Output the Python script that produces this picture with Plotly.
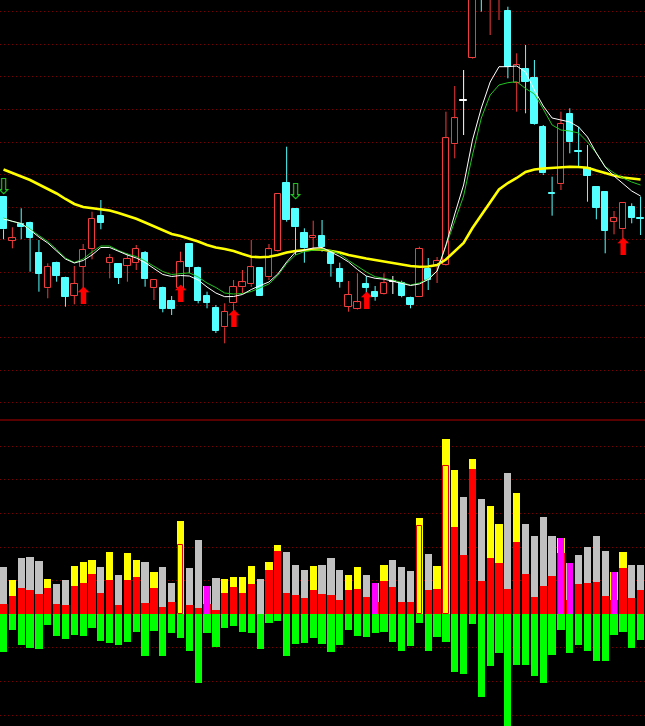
import plotly.graph_objects as go

# ---------------- price data (one candle per session) ----------------
opens = [30.33, 25.9, 27.57, 27.67, 24.67, 21.17, 23.73, 22.17, 20.43, 23.33,
         25.07, 28.4, 23.67, 23.6, 23.4, 23.67, 24.67, 21.17, 21.23, 19.9,
         21.23, 25.6, 23.23, 20.4, 19.23, 17.27, 19.67, 21.27, 21.57, 23.17,
         22.27, 24.9, 31.67, 29.07, 26.67, 26.23, 26.4, 24.67, 23.07, 19.33,
         19.07, 21.6, 20.8, 20.57, 21.83, 21.67, 20.17, 20.33, 23.07, 23.4,
         23.5, 35.57, 39.93, 44.17, 53.5, 51.0, 50.8, 48.9, 41.73, 43.1,
         42.17, 37.33, 30.73, 31.57, 38.6, 34.95, 33.17, 31.33, 30.83, 27.83,
         27.07, 29.33, 28.23]
highs = [30.4, 27.27, 29.17, 27.83, 26.0, 23.67, 23.83, 22.33, 23.4, 25.6,
         28.83, 30.0, 24.6, 23.6, 24.67, 25.5, 24.9, 22.0, 21.33, 20.4,
         24.83, 25.67, 23.33, 20.83, 19.5, 19.67, 22.0, 23.0, 26.0, 23.2,
         25.6, 30.7, 35.33, 29.2, 27.17, 27.93, 28.0, 25.0, 23.73, 21.9,
         22.67, 22.4, 21.4, 22.67, 22.4, 21.93, 20.33, 25.33, 24.2, 24.3,
         38.83, 41.4, 43.0, 53.0, 54.0, 54.0, 53.5, 49.33, 44.67, 45.5,
         44.0, 37.5, 32.33, 38.83, 39.17, 37.33, 35.5, 31.4, 30.83, 28.9,
         29.67, 29.67, 30.33]
lows = [26.07, 25.17, 26.07, 22.83, 20.83, 20.17, 21.83, 19.33, 19.57, 20.83,
        24.07, 27.07, 22.17, 21.6, 21.83, 23.0, 21.33, 20.0, 18.77, 18.5,
        21.17, 22.67, 19.67, 19.17, 16.7, 15.67, 18.83, 20.67, 21.33, 20.4,
        22.0, 24.85, 27.83, 24.5, 23.73, 25.0, 24.83, 22.33, 21.23, 18.83,
        19.02, 20.5, 19.93, 20.52, 20.6, 20.27, 19.17, 20.3, 21.0, 21.7,
        23.45, 34.17, 36.5, 44.12, 48.83, 46.5, 48.0, 42.17, 38.83, 38.67,
        37.5, 32.5, 28.43, 31.0, 34.67, 33.33, 29.83, 28.07, 24.67, 26.57,
        25.9, 27.67, 26.5]
closes = [27.07, 26.17, 27.27, 26.23, 22.6, 23.33, 22.4, 20.33, 21.6, 25.0,
          28.1, 27.73, 24.17, 22.23, 24.1, 25.1, 22.07, 22.0, 19.1, 19.1,
          23.77, 23.33, 19.9, 19.73, 16.9, 18.83, 21.33, 21.77, 23.27, 20.43,
          25.07, 30.6, 28.0, 27.27, 25.17, 26.43, 25.27, 23.6, 21.83, 20.5,
          19.77, 21.23, 20.33, 21.67, 21.83, 20.4, 19.5, 25.1, 22.0, 23.9,
          36.17, 38.17, 39.93, 52.0, 51.5, 53.0, 52.5, 43.33, 43.5, 41.83,
          37.57, 32.67, 30.6, 37.6, 35.77, 34.85, 32.4, 29.23, 26.93, 28.17,
          29.67, 28.23, 28.13]

# moving averages
ma_white = [28.1, 27.85, 27.65, 27.0, 26.3, 25.7, 24.9, 24.1, 23.7, 23.95,
            24.5, 25.25, 25.25, 24.85, 24.5, 24.2, 23.75, 23.15, 22.55, 22.35,
            22.45, 22.4, 22.0, 21.3, 20.7, 20.33, 20.35, 20.55, 21.05, 21.45,
            21.8, 22.6, 23.8, 24.8, 25.0, 25.2, 25.25, 24.8, 24.35, 23.8,
            23.05, 22.4, 22.17, 22.08, 21.85, 21.67, 21.45, 21.6, 22.05, 22.9,
            25.5, 28.6, 31.5, 36.0, 39.2, 41.8, 43.33, 43.33, 43.4, 42.8,
            41.0, 39.4, 38.2, 38.0, 37.8, 37.3, 36.3, 34.7, 33.3, 32.4,
            31.6, 30.9, 30.4]
ma_green = [28.2, 27.85, 27.65, 27.1, 26.45, 25.85, 25.05, 24.2, 23.75, 24.1,
            24.8, 25.4, 25.4, 24.95, 24.6, 24.35, 23.9, 23.35, 22.85, 22.55,
            22.62, 22.72, 22.3, 21.7, 21.25, 20.7, 20.6, 20.65, 20.85, 21.2,
            21.6, 22.45, 23.65, 24.5, 24.85, 24.97, 25.05, 24.95, 24.6, 23.95,
            23.35, 22.8, 22.33, 22.2, 22.0, 21.75, 21.5, 21.7, 22.1, 22.9,
            25.4, 28.0, 30.4, 34.5, 38.2, 40.5, 41.5, 41.73, 41.83, 41.15,
            40.6, 39.1, 37.5, 37.0, 36.9, 36.7, 35.8, 34.7, 33.33, 32.7,
            32.2, 31.8, 31.5]
ma_yellow = [33.05, 32.7, 32.35, 32.0, 31.55, 31.1, 30.65, 30.1, 29.6, 29.3,
             29.2, 29.1, 28.95, 28.7, 28.4, 28.13, 27.75, 27.35, 27.0, 26.6,
             26.4, 26.13, 25.85, 25.5, 25.25, 25.1, 24.9, 24.6, 24.33, 24.27,
             24.33, 24.5, 24.75, 24.9, 25.0, 25.05, 25.05, 24.9, 24.75, 24.5,
             24.3, 24.15, 24.0, 23.87, 23.75, 23.55, 23.4, 23.33, 23.35, 23.5,
             24.05, 24.85, 25.7, 27.2, 28.5, 29.85, 31.05, 31.7, 32.2, 32.8,
             33.05, 33.15, 33.23, 33.3, 33.33, 33.3, 33.23, 32.95, 32.67, 32.45,
             32.25, 32.15, 32.05]

# signal arrows
buy_idx = [9, 20, 26, 41, 70]
buy_level = [20.2, 20.35, 17.9, 19.7, 25.1]
sell_idx = [0, 33]
sell_level = [31.2, 30.65]

# ---------------- lower panel data ----------------
vol_total = [47.6, 34.3, 56, 57.6, 53.3, 35.3, 30.3, 34.3, 48.3, 52.6,
             54.3, 47.6, 62.6, 39.3, 61.6, 54.3, 52.6, 42.6, 47.6, 31.6,
             93.3, 46.6, 74.3, 28.3, 36, 35, 37, 37, 48.3, 35,
             52.3, 69.3, 62, 49.3, 44.3, 48.3, 49.3, 56, 44.3, 39.3,
             47, 39.3, 31.6, 49.3, 54.3, 47.6, 43.3, 96, 60.3, 48.3,
             175.3, 144.3, 117, 155.3, 115, 108.3, 90.3, 141.6, 121, 90.3,
             78.3, 97, 78.3, 76, 51.6, 59.3, 67.6, 78.3, 63.3, 42,
             62, 49.3, 49.3]
vol_red = [10.3, 18.3, 26.6, 24.3, 20.3, 26.6, 10.3, 9.3, 28.3, 31.6,
           40.3, 21.6, 34.3, 9.3, 34.3, 37, 11.6, 26.6, 7.6, 12.6,
           69.3, 9.3, 6.6, 10.3, 4.7, 21.6, 27, 21.6, 30.3, 0,
           44.3, 63.3, 21.6, 19.3, 16.6, 24.3, 20.3, 19.3, 14.3, 24.3,
           25, 17.6, 12.3, 33.3, 27.6, 12.6, 12.6, 88.3, 24.3, 25.3,
           148.6, 87.6, 59.3, 145.3, 33.3, 56.6, 51.6, 25.3, 72.6, 40.3,
           17.6, 28.6, 38.6, 61, 14.3, 30, 31.6, 32.6, 18.3, 14.3,
           46.6, 16.6, 24.3]
vol_kind = list("GYGGGYGGYYYGYGYYGYGGYGGGGYYYYGYYGGGYGGGYYGGYGGGYGYYYGYGYYGYGGGGYGGGGGYYGG")
vol_neg = [-37.4, -15.7, -30.7, -33.4, -34.7, -10.7, -21.7, -24.7, -20.7, -21.4,
           -14, -26.4, -28.4, -30.7, -27.4, -17.4, -41.4, -16.4, -41.4, -19,
           -24, -36.4, -68.4, -18.4, -32.4, -13.4, -11.7, -17.4, -18.4, -35,
           -8.4, -6.4, -41.4, -29.7, -28.4, -23.4, -29.7, -37.4, -30.7, -15.7,
           -21.7, -22.4, -18.4, -17.4, -27.4, -36.4, -31.4, -8.4, -36.4, -23,
           -27.4, -57.4, -59.7, -10, -82.4, -51.7, -39, -118, -50.7, -50.7,
           -61.7, -69, -40.7, -15.7, -38.4, -30.7, -36.4, -46.4, -46.4, -20.7,
           -17.4, -33.4, -25.7]
hollow_idx = [20, 47, 50]
magenta_idx = [23, 42, 63, 64, 69]

# ---------------- styles ----------------
RED_C = "#F03C3C"
CYAN = "#54FFFF"
GRID = "rgb(120,0,0)"
N = len(opens)
xs = list(range(N))
SPLIT = 1 - 420 / 726

fig = go.Figure()

# candles: wicks then bodies
groups = {"up": ([], [], [], [], RED_C), "dn": ([], [], [], [], CYAN), "dj": ([], [], [], [], "#FFFFFF")}
for i in xs:
    o, c = opens[i], closes[i]
    key = "dj" if o == c else ("up" if c > o else "dn")
    lo, hi = min(o, c), max(o, c)
    wx, wy, bx, bb, col = groups[key]
    wx += [i, i, None, i, i, None]
    wy += [hi, highs[i], None, lows[i], lo, None]
    h = hi - lo
    if h < 0.1:
        bb.append((lo - 0.05, 0.1))
    else:
        bb.append((lo, h))
    bx.append(i)

for key, (wx, wy, bx, bb, col) in groups.items():
    fig.add_trace(go.Scatter(x=wx, y=wy, mode="lines", line=dict(color=col, width=1),
                             hoverinfo="skip", xaxis="x", yaxis="y"))
for key, (wx, wy, bx, bb, col) in groups.items():
    fill = "black" if key == "up" else col
    fig.add_trace(go.Bar(x=bx, base=[b[0] for b in bb], y=[b[1] for b in bb], width=0.72,
                         marker=dict(color=fill, line=dict(color=col, width=1)),
                         xaxis="x", yaxis="y"))

# moving averages
fig.add_trace(go.Scatter(x=xs, y=ma_yellow, mode="lines", line=dict(color="#FFFF00", width=2.6),
                         xaxis="x", yaxis="y"))
fig.add_trace(go.Scatter(x=xs, y=ma_green, mode="lines", line=dict(color="#22C422", width=1),
                         xaxis="x", yaxis="y"))
fig.add_trace(go.Scatter(x=xs, y=ma_white, mode="lines", line=dict(color="#FFFFFF", width=1),
                         xaxis="x", yaxis="y"))

# arrows
fig.add_trace(go.Scatter(x=buy_idx, y=buy_level, mode="text", text=["⬆"] * len(buy_idx),
                         textfont=dict(family="DejaVu Sans", size=23, color="#FF0000"),
                         textposition="middle center", xaxis="x", yaxis="y"))
fig.add_trace(go.Scatter(x=sell_idx, y=sell_level, mode="text", text=["⇩"] * len(sell_idx),
                         textfont=dict(family="DejaVu Sans", size=22, color="#22C422"),
                         textposition="middle center", cliponaxis=False, xaxis="x", yaxis="y"))

# lower panel
BW = 0.82
solid = [i for i in xs if i not in hollow_idx]
fig.add_trace(go.Bar(x=solid, y=[vol_red[i] for i in solid], width=BW,
                     marker=dict(color="#FF0000", line=dict(width=0)), xaxis="x2", yaxis="y2"))
for kind, col in (("G", "#C0C0C0"), ("Y", "#FFFF00")):
    sel = [i for i in solid if vol_kind[i] == kind]
    fig.add_trace(go.Bar(x=sel, base=[vol_red[i] for i in sel],
                         y=[vol_total[i] - vol_red[i] for i in sel], width=BW,
                         marker=dict(color=col, line=dict(width=0)), xaxis="x2", yaxis="y2"))
fig.add_trace(go.Bar(x=hollow_idx, y=[vol_total[i] for i in hollow_idx], width=BW,
                     marker=dict(color="#FFFF00", line=dict(width=0)), xaxis="x2", yaxis="y2"))
fig.add_trace(go.Bar(x=hollow_idx, y=[vol_red[i] for i in hollow_idx], width=0.6,
                     marker=dict(color="#FFFF00", line=dict(color="#E00000", width=1)),
                     xaxis="x2", yaxis="y2"))
fig.add_trace(go.Bar(x=magenta_idx, y=[vol_total[i] for i in magenta_idx], width=0.62,
                     marker=dict(color="#FF00FF", line=dict(width=0)), xaxis="x2", yaxis="y2"))
fig.add_trace(go.Bar(x=xs, y=vol_neg, width=BW,
                     marker=dict(color="#00FF00", line=dict(width=0)), xaxis="x2", yaxis="y2"))

axis_common = dict(showticklabels=False, ticks="", showline=False, zeroline=False,
                   showgrid=True, gridcolor=GRID, gridwidth=1, griddash="1px,3px", fixedrange=True)
fig.update_layout(
    width=645, height=726, margin=dict(l=0, r=0, t=0, b=0),
    paper_bgcolor="black", plot_bgcolor="black",
    barmode="overlay", bargap=0, showlegend=False, hovermode=False,
    xaxis=dict(domain=[0, 1], range=[-0.4, 72.5], visible=False, anchor="y"),
    xaxis2=dict(domain=[0, 1], range=[-0.4, 72.5], visible=False, anchor="y2", matches="x"),
    yaxis=dict(domain=[SPLIT, 1], range=[8, 50], tick0=48.83, dtick=3.26, anchor="x", **axis_common),
    yaxis2=dict(domain=[0, SPLIT], range=[-111.7, 194.3], tick0=0, dtick=33.6, anchor="x2", **axis_common),
    shapes=[dict(type="line", xref="paper", yref="paper", x0=0, x1=1, y0=SPLIT, y1=SPLIT,
                 line=dict(color="#B00000", width=1))],
)

fig.write_html("out.html", config={"displayModeBar": False},
               post_script="document.body.style.margin='0';document.body.style.background='#000';")
